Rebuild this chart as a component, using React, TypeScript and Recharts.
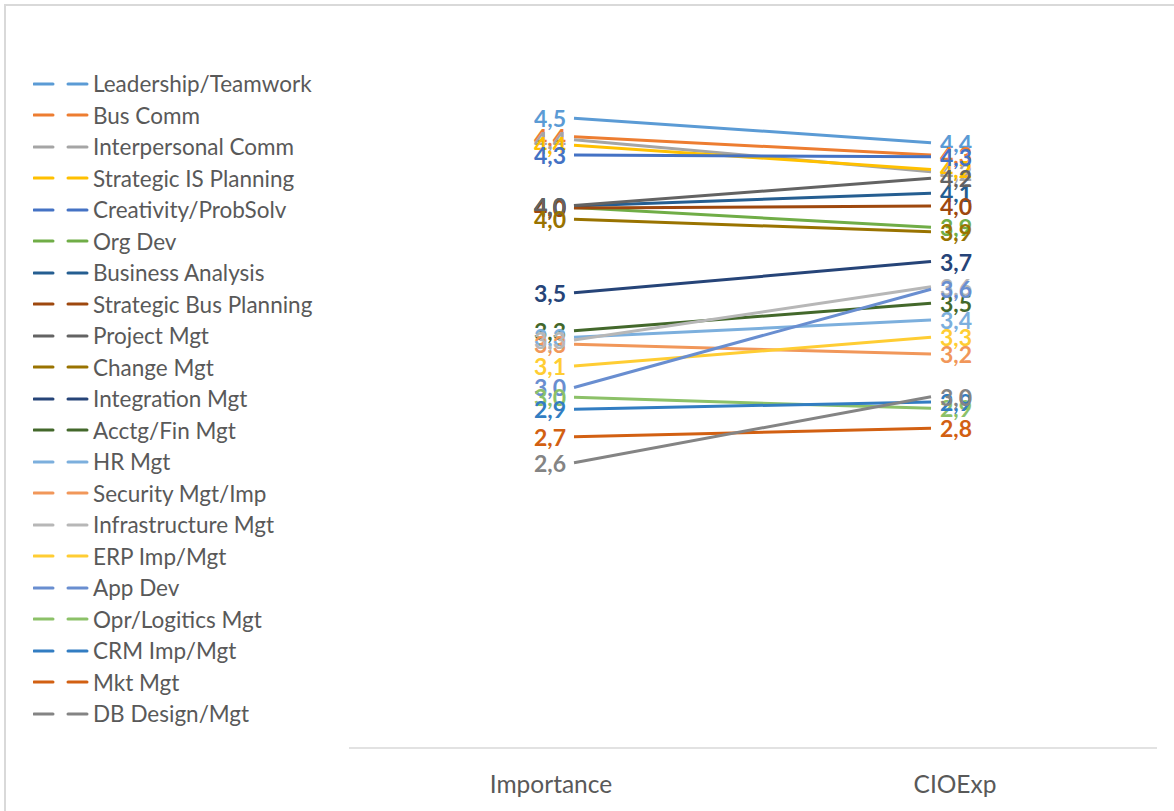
import React from 'react';
import { LineChart, Line, XAxis, YAxis, Legend, LabelList } from 'recharts';

const categories = ['Importance', 'CIOExp'];

const seriesNames = [
  'Leadership/Teamwork', 'Bus Comm', 'Interpersonal Comm', 'Strategic IS Planning',
  'Creativity/ProbSolv', 'Org Dev', 'Business Analysis', 'Strategic Bus Planning',
  'Project Mgt', 'Change Mgt', 'Integration Mgt', 'Acctg/Fin Mgt', 'HR Mgt',
  'Security Mgt/Imp', 'Infrastructure Mgt', 'ERP Imp/Mgt', 'App Dev',
  'Opr/Logitics Mgt', 'CRM Imp/Mgt', 'Mkt Mgt', 'DB Design/Mgt',
];

const seriesColors = [
  '#5B9BD5', '#ED7D31', '#A5A5A5', '#FFC000', '#4472C4', '#70AD47',
  '#255E91', '#9E480E', '#636363', '#997300', '#264478', '#43682B',
  '#7CAFDD', '#F1975A', '#B7B7B7', '#FFCD33', '#698ED0', '#8CC168',
  '#327DC2', '#D26012', '#848484',
];

const importanceValues = [
  4.528, 4.424, 4.407, 4.375, 4.32, 4.024, 4.032, 4.021, 4.035, 3.957, 3.542,
  3.328, 3.29, 3.251, 3.275, 3.128, 3.007, 2.951, 2.884, 2.729, 2.582,
];

const cioExpValues = [
  4.39, 4.32, 4.226, 4.239, 4.311, 3.912, 4.104, 4.032, 4.189, 3.887, 3.718,
  3.483, 3.388, 3.196, 3.576, 3.29, 3.562, 2.889, 2.925, 2.776, 2.955,
];

const valueSets = [importanceValues, cioExpValues];

const data = categories.map((cat, ci) => {
  const row: Record<string, number | string> = { cat };
  seriesNames.forEach((_, si) => {
    row['s' + si] = valueSets[ci][si];
  });
  return row;
});

const FONT = 'Lato, "Open Sans", sans-serif';
const TEXT = '#595959';

const AxisTick = (props: any) => {
  const { x, y, payload, index } = props;
  const shift = index === 0 ? -23 : 24;
  return (
    <text
      x={x + shift}
      y={y + 35}
      textAnchor="middle"
      dominantBaseline="central"
      fill={TEXT}
      fontSize={24.5}
      fontFamily={FONT}
    >
      {payload.value}
    </text>
  );
};

const makeLabel = (color: string) => (props: any) => {
  const { x, y, value, index } = props;
  const left = index === 0;
  return (
    <text
      x={left ? x - 8 : x + 9}
      y={y}
      textAnchor={left ? 'end' : 'start'}
      dominantBaseline="central"
      fill={color}
      fontSize={23}
      fontWeight="bold"
      fontFamily={FONT}
    >
      {Number(value).toFixed(1).replace('.', ',')}
    </text>
  );
};

const renderLegend = () => (
  <div style={{ fontFamily: FONT, fontSize: 22.5, color: TEXT }}>
    {seriesNames.map((name, i) => (
      <div key={name} style={{ height: 31.5, display: 'flex', alignItems: 'center', whiteSpace: 'nowrap' }}>
        <svg width={60} height={8} style={{ flex: 'none' }}>
          <line x1={1} y1={4} x2={20} y2={4} stroke={seriesColors[i]} strokeWidth={3} strokeLinecap="round" />
          <line x1={35} y1={4} x2={54} y2={4} stroke={seriesColors[i]} strokeWidth={3} strokeLinecap="round" />
        </svg>
        <span>{name}</span>
      </div>
    ))}
  </div>
);

export default function App() {
  return (
    <div style={{ position: 'absolute', left: 0, top: 0, width: 1174, height: 811, overflow: 'hidden', background: '#fff' }}>
      <div
        style={{
          position: 'absolute', left: 4, top: 4, width: 1200, height: 900,
          border: '2px solid #D9D9D9', boxSizing: 'border-box',
        }}
      />
      <div style={{ position: 'absolute', left: 0, top: 0 }}>
        <LineChart
          width={1174}
          height={811}
          data={data}
          margin={{ top: 34.7, right: 17, bottom: 33, left: 349 }}
        >
          <XAxis
            dataKey="cat"
            padding={{ left: 225, right: 226 }}
            axisLine={{ stroke: '#D9D9D9', strokeWidth: 1.5 }}
            tickLine={false}
            tickSize={0}
            tickMargin={0}
            tick={<AxisTick />}
            interval={0}
          />
          <YAxis hide domain={[0.97, 5]} type="number" allowDataOverflow />
          <Legend
            layout="vertical"
            align="center"
            verticalAlign="middle"
            content={renderLegend}
            wrapperStyle={{ left: 33, top: 67.75, width: 330, height: 680 }}
          />
          {seriesNames.map((name, i) => (
            <Line
              key={name}
              name={name}
              dataKey={'s' + i}
              stroke={seriesColors[i]}
              strokeWidth={3}
              dot={false}
              activeDot={false}
              isAnimationActive={false}
            >
              <LabelList dataKey={'s' + i} content={makeLabel(seriesColors[i])} />
            </Line>
          ))}
        </LineChart>
      </div>
    </div>
  );
}
